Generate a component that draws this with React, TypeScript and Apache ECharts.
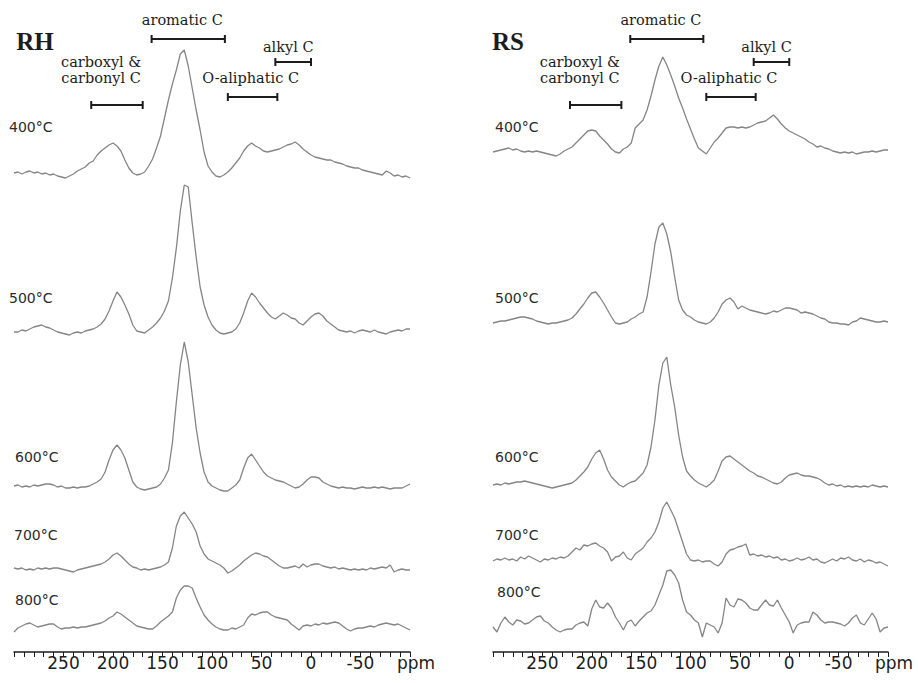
import React, { useEffect, useRef } from "react";
import * as echarts from "echarts";

// chemical shift sampling grid (ppm)
const PPM: number[] = [
  300, 296, 292, 288, 284, 280, 276, 272, 268, 264,
  260, 256, 252, 248, 244, 240, 236, 232, 228, 224,
  220, 216, 212, 208, 204, 200, 196, 192, 188, 184,
  180, 176, 172, 168, 164, 160, 156, 152, 148, 144,
  140, 136, 132, 128, 124, 120, 116, 112, 108, 104,
  100, 96, 92, 88, 84, 80, 76, 72, 68, 64,
  60, 56, 52, 48, 44, 40, 36, 32, 28, 24,
  20, 16, 12, 8, 4, 0, -4, -8, -12, -16,
  -20, -24, -28, -32, -36, -40, -44, -48, -52, -56,
  -60, -64, -68, -72, -76, -80, -84, -88, -92, -96,
  -100,
];

const PANELS = ["RH", "RS"];
const TEMPS = ["400°C", "500°C", "600°C", "700°C", "800°C"];
const TICK_LABELS = [250, 200, 150, 100, 50, 0, -50];
const UNIT = "ppm";

// RH spectra intensities (a.u.)
const RH_400 = [
  3, 4, 2, 4, 5, 3, 4, 2, 3, 1,
  2, 0, -1, -2, 0, 2, 5, 7, 9, 13,
  15, 21, 25, 28, 31, 33, 30, 25, 16, 8,
  3, 1, 2, 4, 10, 17, 28, 40, 58, 76,
  92, 106, 122, 126, 110, 88, 66, 46, 24, 10,
  4, 0, -1, 1, 4, 8, 13, 18, 25, 30,
  33, 30, 28, 25, 24, 25, 26, 27, 29, 31,
  32, 34, 31, 27, 24, 21, 19, 18, 17, 16,
  16, 14, 13, 12, 10, 9, 8, 8, 6, 5,
  4, 3, 2, 1, 5, 3, 0, 1, -1, 0,
  -2,
];
const RH_500 = [
  1, 1, 3, 2, 4, 6, 7, 8, 6, 5,
  3, 1, 0, -1, -2, 0, 1, 0, 2, 3,
  4, 6, 9, 14, 22, 32, 41, 36, 28, 19,
  8, 2, 1, 0, 3, 6, 10, 15, 22, 32,
  55, 85, 122, 148, 146, 110, 76, 46, 28, 16,
  8, 3, 0, -1, 0, 1, 4, 10, 20, 32,
  40, 36, 30, 25, 20, 16, 14, 17, 20, 18,
  15, 14, 10, 8, 12, 16, 19, 20, 17, 12,
  9, 6, 3, 2, 1, 2, 0, 2, 3, 2,
  1, 3, 1, 0, -1, 1, 2, 3, 2, 4,
  4,
];
const RH_600 = [
  4, 5, 3, 4, 3, 5, 4, 5, 6, 6,
  5, 3, 4, 2, 2, 3, 2, 3, 3, 4,
  6, 8, 11, 18, 30, 40, 45, 40, 32, 20,
  8, 3, 1, 0, 1, 2, 3, 6, 12, 20,
  47, 88, 125, 148, 128, 95, 62, 37, 18, 8,
  4, 2, 0, -1, -1, 2, 5, 10, 22, 32,
  36, 30, 24, 18, 14, 12, 10, 9, 8, 6,
  4, 2, 3, 6, 10, 13, 13, 12, 8, 6,
  4, 3, 2, 3, 2, 2, 1, 2, 3, 2,
  2, 3, 2, 3, 2, 1, 2, 2, 2, 4,
  6,
];
const RH_700 = [
  2, 1, 2, 0, 1, 0, 2, 1, 2, 1,
  2, 2, 1, 0, -1, -2, 0, 1, 2, 3,
  4, 5, 6, 8, 11, 15, 17, 14, 10, 6,
  3, 2, 0, 1, 0, 1, 2, 3, 5, 8,
  22, 44, 54, 58, 52, 46, 38, 24, 16, 11,
  9, 7, 5, 2, -3, -1, 2, 5, 9, 12,
  15, 17, 16, 14, 13, 10, 7, 4, 2, 2,
  3, 4, 2, 6, 3, 5, 6, 6, 4, 3,
  2, 3, 1, 2, 1, 0, 1, 0, 1, 0,
  2, 1, 2, 3, 2, 5, -2, 0, 1, 0,
  0,
];
const RH_800 = [
  -2, 2, 4, 6, 7, 5, 3, 4, 5, 6,
  6, 3, 1, 2, 2, 3, 2, 3, 3, 4,
  5, 6, 7, 9, 12, 14, 18, 16, 13, 10,
  7, 4, 3, 2, 1, 1, 4, 8, 11, 14,
  18, 32, 40, 44, 44, 42, 32, 23, 15, 10,
  6, 3, 1, 0, 0, 2, 1, 3, 5, 12,
  16, 15, 17, 18, 18, 15, 13, 12, 11, 10,
  6, 3, 0, 4, 5, 4, 6, 5, 7, 6,
  7, 8, 7, 4, 1, -1, 1, 2, 2, 3,
  4, 3, 5, 6, 7, 6, 5, 6, 4, 2,
  0,
];

// RS spectra intensities (a.u.)
const RS_400 = [
  0, 1, 2, 3, 4, 2, 3, 1, 0, 1,
  0, 1, 0, -1, -2, -3, -4, -2, 1, 3,
  5, 9, 13, 17, 21, 22, 21, 16, 12, 8,
  3, 0, -1, 3, 5, 9, 24, 28, 32, 42,
  56, 72, 86, 95, 87, 77, 66, 54, 44, 33,
  23, 13, 4, 1, -2, 4, 10, 14, 19, 24,
  25, 25, 24, 25, 24, 25, 27, 29, 30, 31,
  34, 37, 33, 28, 24, 21, 19, 17, 15, 13,
  10, 8, 5, 6, 4, 3, 1, 0, -1, 0,
  -1, 0, -2, -1, 0, 0, 1, 0, 1, 2,
  2,
];
const RS_500 = [
  -1, 0, 1, 1, 2, 3, 4, 5, 5, 4,
  3, 1, 0, -1, -2, -1, -1, 0, 1, 2,
  4, 8, 13, 18, 24, 29, 30, 25, 19, 12,
  5, -1, -2, -1, 0, 3, 5, 8, 10, 25,
  50, 78, 95, 99, 88, 70, 45, 22, 12, 7,
  5, 2, 0, -1, -2, 0, 4, 10, 18, 22,
  24, 20, 13, 16, 14, 12, 11, 10, 9, 8,
  9, 11, 10, 12, 14, 14, 13, 12, 9, 10,
  9, 8, 6, 4, 3, 0, -1, -1, -2, -2,
  -3, 0, 1, 4, 3, 2, 1, 0, 0, 1,
  0,
];
const RS_600 = [
  0, 1, 0, 2, 1, 2, 3, 3, 4, 3,
  2, 1, 0, -1, -2, -3, -2, -1, 0, 1,
  2, 5, 9, 13, 18, 26, 32, 35, 26, 15,
  8, 4, 0, -2, 1, 3, 4, 8, 12, 20,
  38, 65, 100, 122, 128, 100, 78, 50, 28, 14,
  9, 5, 2, 0, -2, 1, 5, 14, 24, 28,
  29, 26, 23, 20, 17, 14, 12, 9, 8, 6,
  4, 2, 1, 3, 7, 10, 11, 12, 10, 9,
  9, 8, 7, 5, 2, 0, 1, -1, 0, -2,
  -1, -2, -1, -2, -1, -2, 0, -1, -2, -1,
  -2,
];
const RS_700 = [
  -1, 1, 0, 2, 0, 1, -1, 3, 1, 4,
  2, 0, -2, 1, 0, 2, 1, 3, 2, 4,
  8, 12, 10, 15, 14, 16, 17, 14, 12, 8,
  -1, 3, 4, 8, 2, 0, 6, 9, 12, 18,
  22, 28, 38, 52, 58, 50, 42, 30, 18, 6,
  0, -1, 0, -2, -1, -1, -4, -6, -2, 6,
  10, 11, 13, 14, 16, 5, 6, 4, 5, 3,
  4, 2, 3, 0, 1, -1, 0, 2, 0, 1,
  3, 0, 1, -2, -3, -1, 1, -1, 2, 1,
  3, 0, -1, 1, -2, 0, -1, -3, -2, -4,
  -6,
];
const RS_800 = [
  0, -5, 4, 10, 5, 2, 7, 6, 3, 4,
  7, 10, 11, 6, 4, 0, -3, -5, -3, -2,
  -2, 2, 4, 5, 1, 18, 27, 20, 19, 24,
  19, 10, 4, -3, 5, 7, 1, 6, 10, 14,
  16, 22, 32, 42, 56, 57, 52, 44, 27, 15,
  12, 7, 4, -10, 4, 2, 0, -6, 4, 29,
  22, 20, 28, 27, 24, 19, 17, 17, 22, 27,
  22, 21, 27, 19, 12, 5, -6, 2, 4, 5,
  5, 15, 12, 7, 4, 5, 5, 4, 3, 1,
  4, 9, 12, 4, 2, 8, 14, 8, -5, -1,
  0,
];

const RH_SPECTRA = [RH_400, RH_500, RH_600, RH_700, RH_800];
const RS_SPECTRA = [RS_400, RS_500, RS_600, RS_700, RS_800];

// assignment regions (ppm ranges)
const REGIONS = ["aromatic C", "carboxyl &\ncarbonyl C", "O-aliphatic C", "alkyl C"];
const REGION_START = [161, 222, 84, 36];
const REGION_END = [87, 170, 34, 0];

// ---- layout (not data) ----
const STACK_OFFSET = [
  [476, 319, 162, 82, 22],
  [500, 330, 167, 92, 25],
];
const BRACKET_LEVEL = [613, 547, 555, 590];
const LABEL_PPM = [130, 212, 61, 23];
const LABEL_LEVEL = [632, 582, 574, 605];
const GRID_LEFT = [14, 493];
const GRID_WIDTH = [396, 395];
const TITLE_POS = [[35, 41], [508, 41]];
const TEMP_POS = [
  [[9, 127], [9, 298], [15, 457], [14, 535], [15, 600]],
  [[495, 127], [495, 298], [495, 457], [495, 535], [497, 592]],
];

const INK = "#1c1c1c";
const LINE = "#858585";

export default function App() {
  const ref = useRef<HTMLDivElement>(null);

  useEffect(() => {
    if (!ref.current) return;
    const chart = echarts.init(ref.current, null, { renderer: "svg" });
    const spectraSets = [RH_SPECTRA, RS_SPECTRA];

    const lineSeries: any[] = [];
    spectraSets.forEach((set, g) => {
      set.forEach((vals, k) => {
        lineSeries.push({
          name: `${PANELS[g]} ${TEMPS[k]}`,
          type: "line",
          xAxisIndex: g,
          yAxisIndex: g,
          showSymbol: false,
          symbol: "none",
          silent: true,
          lineStyle: { color: LINE, width: 1.3 },
          data: PPM.map((p, i) => [p, STACK_OFFSET[g][k] + vals[i]]),
        });
      });
    });

    const bracketSeries = [0, 1].map((g) => ({
      type: "custom",
      xAxisIndex: g,
      yAxisIndex: g,
      silent: true,
      z: 5,
      encode: { x: [0, 1, 3], y: [2, 4] },
      data: REGIONS.map((_, k) => [
        REGION_START[k],
        REGION_END[k],
        BRACKET_LEVEL[k],
        LABEL_PPM[k],
        LABEL_LEVEL[k],
      ]),
      renderItem: (params: any, api: any) => {
        const a = api.coord([api.value(0), api.value(2)]);
        const b = api.coord([api.value(1), api.value(2)]);
        const l = api.coord([api.value(3), api.value(4)]);
        const st = { stroke: INK, lineWidth: 2 };
        return {
          type: "group",
          children: [
            { type: "line", shape: { x1: a[0], y1: a[1], x2: b[0], y2: b[1] }, style: st },
            { type: "line", shape: { x1: a[0], y1: a[1] - 4, x2: a[0], y2: a[1] + 4 }, style: st },
            { type: "line", shape: { x1: b[0], y1: b[1] - 4, x2: b[0], y2: b[1] + 4 }, style: st },
            {
              type: "text",
              x: l[0],
              y: l[1],
              style: {
                text: REGIONS[params.dataIndex],
                fill: INK,
                font: '14.5px "DejaVu Serif"',
                align: "center",
                verticalAlign: "middle",
                textAlign: "center",
                textVerticalAlign: "middle",
                lineHeight: 16,
              },
            },
          ],
        };
      },
    }));

    const graphics: any[] = [];
    PANELS.forEach((p, g) => {
      graphics.push({
        type: "text",
        x: TITLE_POS[g][0],
        y: TITLE_POS[g][1],
        style: {
          text: p,
          fill: INK,
          font: 'bold 25px "Liberation Serif"',
          align: "center",
          verticalAlign: "middle",
          textAlign: "center",
          textVerticalAlign: "middle",
        },
      });
      TEMPS.forEach((t, k) => {
        graphics.push({
          type: "text",
          x: TEMP_POS[g][k][0],
          y: TEMP_POS[g][k][1],
          style: {
            text: t,
            fill: "#2a2a2a",
            font: '14px "DejaVu Sans"',
            align: "left",
            verticalAlign: "middle",
            textAlign: "left",
            textVerticalAlign: "middle",
          },
        });
      });
    });

    const option: any = {
      animation: false,
      backgroundColor: "#ffffff",
      grid: [0, 1].map((g) => ({
        left: GRID_LEFT[g],
        width: GRID_WIDTH[g],
        top: 0,
        height: 652,
      })),
      xAxis: [0, 1].map((g) => ({
        gridIndex: g,
        type: "value",
        inverse: true,
        min: -100,
        max: 300,
        interval: 10,
        splitLine: { show: false },
        axisLine: { lineStyle: { color: INK, width: 1.5 } },
        axisTick: { length: 5, lineStyle: { color: INK, width: 1 } },
        axisLabel: {
          margin: 2,
          color: INK,
          fontFamily: "DejaVu Sans",
          fontSize: 17,
          formatter: (v: number) =>
            v === -100 ? `{u|${UNIT}}` : TICK_LABELS.indexOf(v) >= 0 ? String(v) : "",
          rich: {
            u: {
              padding: [0, 0, 0, 12],
              color: INK,
              fontFamily: "DejaVu Sans",
              fontSize: 17,
            },
          },
        },
      })),
      yAxis: [0, 1].map((g) => ({
        gridIndex: g,
        type: "value",
        min: 0,
        max: 652,
        show: false,
      })),
      series: [...lineSeries, ...bracketSeries],
      graphic: graphics,
    };

    chart.setOption(option);
    return () => chart.dispose();
  }, []);

  return (
    <div
      ref={ref}
      style={{ position: "fixed", left: 0, top: 0, width: 918, height: 683, background: "#fff" }}
    />
  );
}
